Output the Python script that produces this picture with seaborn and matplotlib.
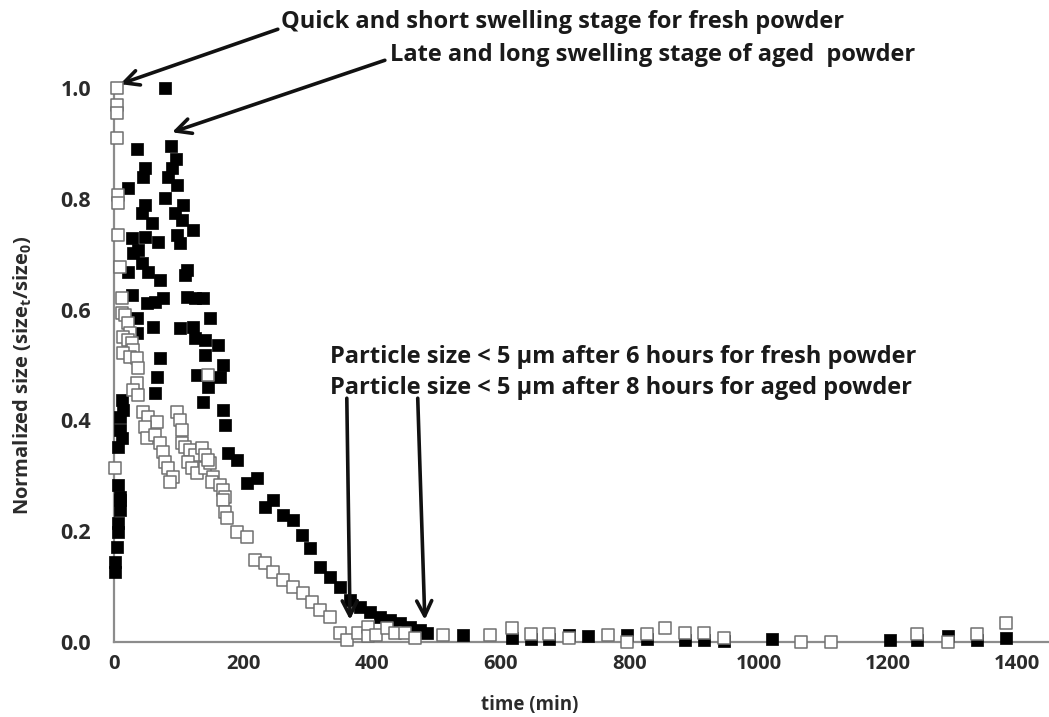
import matplotlib
import matplotlib.pyplot as plt
import pandas as pd
import seaborn as sns

matplotlib.use("Agg")

# aged powder (filled squares): time (min), normalized size
aged_time = [
    79, 35, 88, 96, 48, 90, 45, 84, 98, 21, 79, 48, 107, 95, 43, 59, 106, 122,
    28, 48, 68, 98, 103, 29, 37, 43, 21, 53, 113, 71, 110, 28, 51, 64, 76, 113,
    126, 138, 36, 61, 103, 122, 149, 36, 126, 141, 161, 71, 141, 169, 129, 164,
    146, 138, 169, 172, 66, 64, 177, 191, 206, 222, 234, 246, 262, 277, 291, 304,
    319, 335, 351, 366, 381, 397, 412, 428, 444, 459, 475, 486, 541,
    13, 14, 10, 10, 13, 6, 6, 10, 10, 10, 6, 6, 5, 2, 2,
    617, 646, 674, 705, 735, 795, 826, 886, 915, 946, 1020, 1203, 1246, 1293,
    1338, 1384,
]
aged_size = [
    1.0, 0.89, 0.895, 0.872, 0.856, 0.856, 0.839, 0.839, 0.825, 0.819, 0.801,
    0.789, 0.789, 0.774, 0.774, 0.756, 0.762, 0.744, 0.729, 0.731, 0.722, 0.735,
    0.72, 0.702, 0.708, 0.684, 0.668, 0.668, 0.671, 0.653, 0.662, 0.626, 0.612,
    0.614, 0.621, 0.623, 0.621, 0.621, 0.585, 0.569, 0.567, 0.569, 0.585, 0.558,
    0.549, 0.545, 0.536, 0.513, 0.518, 0.5, 0.482, 0.478, 0.46, 0.433, 0.419,
    0.392, 0.478, 0.449, 0.341, 0.329, 0.287, 0.296, 0.244, 0.256, 0.229, 0.22,
    0.193, 0.17, 0.135, 0.117, 0.099, 0.076, 0.063, 0.054, 0.045, 0.04, 0.034,
    0.027, 0.022, 0.016, 0.012,
    0.437, 0.419, 0.406, 0.383, 0.368, 0.352, 0.283, 0.262, 0.256, 0.238, 0.215,
    0.199, 0.171, 0.144, 0.126,
    0.008, 0.006, 0.006, 0.012, 0.01, 0.012, 0.005, 0.004, 0.004, 0.002, 0.005,
    0.004, 0.003, 0.01, 0.003, 0.008,
]

# fresh powder (open squares)
fresh_time = [
    5, 5, 5, 5, 6, 6, 6, 10, 13, 13, 17, 21, 24, 14, 21, 28, 29, 14, 24, 36, 37,
    36, 29, 37, 45, 53, 66, 48, 51, 64, 71, 76, 79, 84, 92, 87, 98, 103, 106,
    106, 110, 118, 126, 137, 141, 114, 121, 129, 141, 149, 145, 153, 152, 164,
    169, 172, 146, 2, 169, 172, 175, 191, 206, 219, 234, 246, 262, 277, 293, 307,
    319, 335, 351, 362, 378, 394, 394, 407, 423, 436, 451, 467, 510, 583, 617,
    646, 674, 705, 766, 795, 826, 854, 886, 915, 946, 1066, 1112, 1246, 1293,
    1338, 1384,
]
fresh_size = [
    1.0, 0.969, 0.955, 0.91, 0.807, 0.792, 0.735, 0.677, 0.621, 0.594, 0.59,
    0.576, 0.558, 0.55, 0.545, 0.54, 0.527, 0.522, 0.515, 0.512, 0.495, 0.467,
    0.455, 0.446, 0.415, 0.406, 0.397, 0.388, 0.368, 0.374, 0.359, 0.343, 0.325,
    0.314, 0.298, 0.289, 0.415, 0.401, 0.383, 0.359, 0.352, 0.347, 0.338, 0.35,
    0.338, 0.325, 0.314, 0.305, 0.314, 0.323, 0.329, 0.298, 0.289, 0.283, 0.274,
    0.262, 0.482, 0.314, 0.256, 0.235, 0.224, 0.199, 0.19, 0.148, 0.142, 0.127,
    0.112, 0.1, 0.088, 0.073, 0.058, 0.045, 0.016, 0.004, 0.016, 0.027, 0.01,
    0.013, 0.025, 0.016, 0.016, 0.008, 0.013, 0.013, 0.026, 0.015, 0.015, 0.008,
    0.013, 0.0, 0.015, 0.026, 0.017, 0.017, 0.008, 0.0, 0.0, 0.015, 0.0, 0.015,
    0.034,
]

x_ticks = [0, 200, 400, 600, 800, 1000, 1200, 1400]
y_ticks = [0.0, 0.2, 0.4, 0.6, 0.8, 1.0]

sns.set_theme(style="white")
plt.rcParams["font.family"] = ["Open Sans", "DejaVu Sans"]

aged = pd.DataFrame({"time": aged_time, "size": aged_size})
fresh = pd.DataFrame({"time": fresh_time, "size": fresh_size})

fig = plt.figure(figsize=(10.49, 7.17), dpi=100)
ax = fig.add_axes([0.1087, 0.1046, 0.8913, 0.7727])

# filled first, open squares drawn on top (as in the original)
sns.scatterplot(data=aged, x="time", y="size", marker="s", s=68, color="black",
                edgecolor="black", linewidth=0.5, ax=ax, clip_on=False, zorder=3)
sns.scatterplot(data=fresh, x="time", y="size", marker="s", s=66, color="white",
                edgecolor="#707070", linewidth=1.1, ax=ax, clip_on=False, zorder=4)

ax.set_xlim(0, 1450)
ax.set_ylim(0, 1.0)
ax.set_xticks(x_ticks)
ax.set_yticks(y_ticks)
ax.set_yticklabels([f"{v:.1f}" for v in y_ticks])
for side in ("top", "right"):
    ax.spines[side].set_visible(False)
for side in ("left", "bottom"):
    ax.spines[side].set_color("#8c8c8c")
    ax.spines[side].set_linewidth(1.6)
ax.tick_params(axis="both", direction="inout", length=9, width=1.4,
               color="#8c8c8c", labelcolor="#2b2b2b")
ax.tick_params(axis="x", labelsize=14.5, pad=4)
ax.tick_params(axis="y", labelsize=15.5, pad=12)
for lab in ax.get_xticklabels() + ax.get_yticklabels():
    lab.set_fontweight("bold")

ax.set_xlabel("time (min)", fontsize=13.5, fontweight="bold", color="#2b2b2b")
ax.set_ylabel(r"Normalized size (size$_\mathregular{t}$/size$_\mathregular{0}$)",
              fontsize=14.5, fontweight="bold", color="#2b2b2b")
ax.xaxis.set_label_coords(0.445, -0.114)
ax.xaxis.label.set_va("center")
ax.yaxis.set_label_coords(-0.098, 0.482)
ax.yaxis.label.set_va("center")

arrow = dict(arrowstyle="->,head_length=0.9,head_width=0.45", lw=2.6, color="#111111",
             shrinkA=0, shrinkB=0)
txt = dict(fontsize=17, fontweight="bold", color="#1a1a1a", va="center", ha="left",
           annotation_clip=False)

ax.annotate("", xy=(9.3, 1.007), xytext=(254, 1.106), arrowprops=arrow, annotation_clip=False)
ax.annotate("Quick and short swelling stage for fresh powder", xy=(259, 1.119), **txt)
ax.annotate("", xy=(90, 0.92), xytext=(420, 1.05), arrowprops=arrow, annotation_clip=False)
ax.annotate("Late and long swelling stage of aged  powder", xy=(428, 1.06), **txt)

ax.annotate("Particle size < 5 µm after 6 hours for fresh powder", xy=(335, 0.514), **txt)
ax.annotate("Particle size < 5 µm after 8 hours for aged powder", xy=(335, 0.458), **txt)
ax.annotate("", xy=(366, 0.04), xytext=(361, 0.44), arrowprops=arrow, annotation_clip=False)
ax.annotate("", xy=(482, 0.04), xytext=(471, 0.44), arrowprops=arrow, annotation_clip=False)

fig.savefig("out.png", dpi=100)
plt.close(fig)
